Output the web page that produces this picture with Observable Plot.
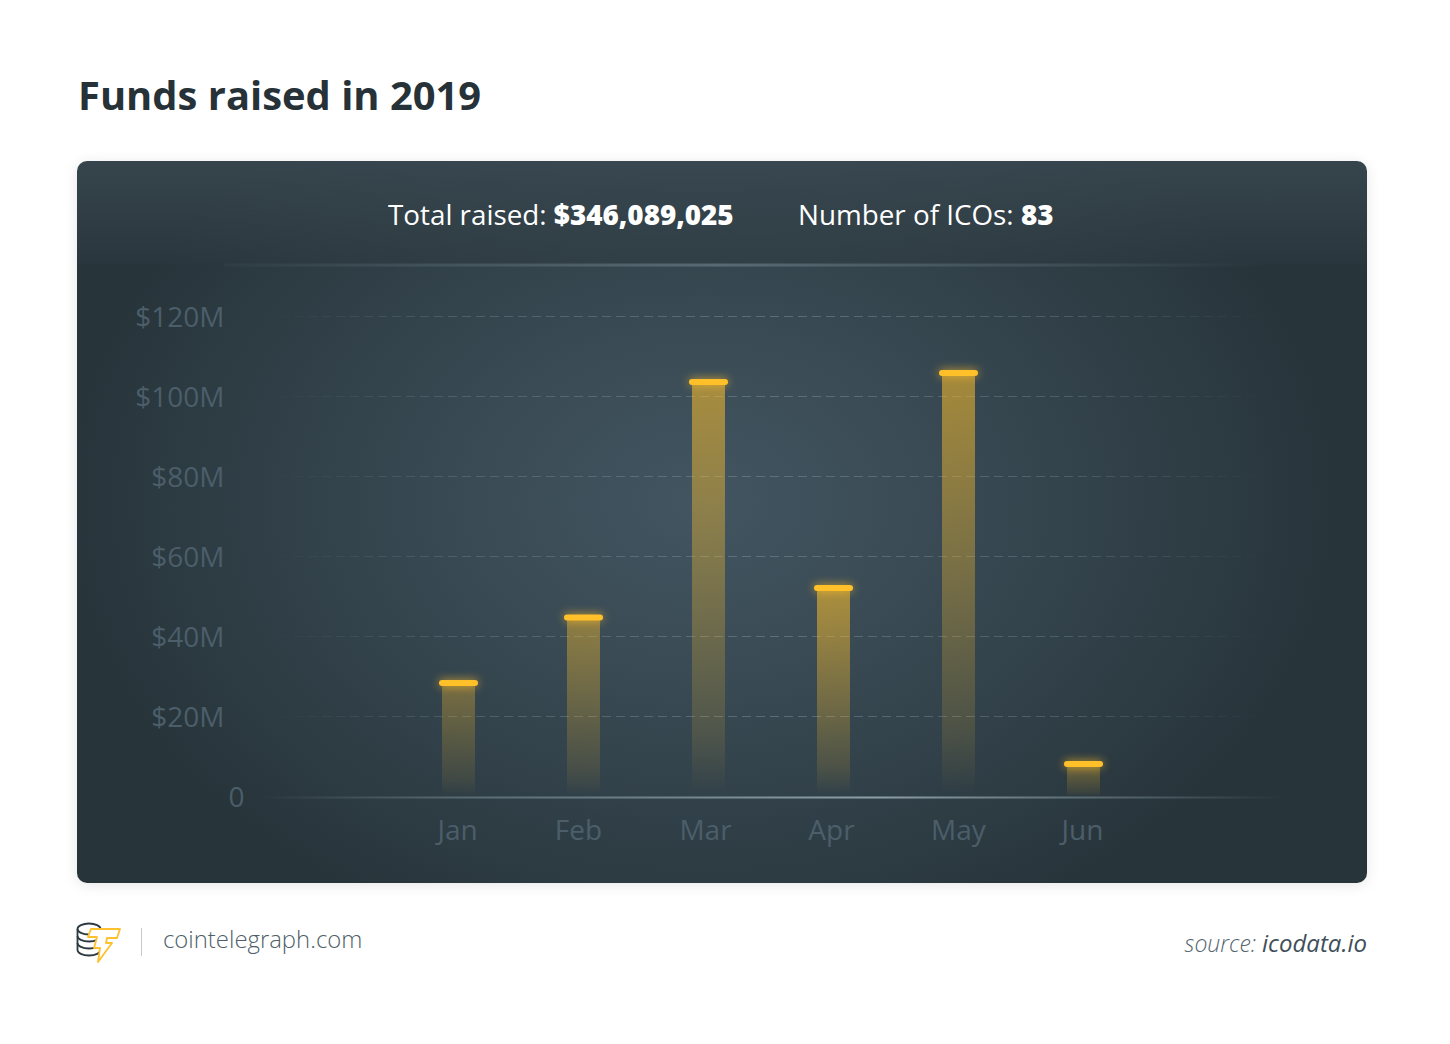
<!DOCTYPE html>
<html><head><meta charset="utf-8">
<script src="https://cdn.jsdelivr.net/npm/d3@7"></script>
<script src="https://cdn.jsdelivr.net/npm/@observablehq/plot@0.6"></script>
<style>
html,body{margin:0;padding:0;background:#fff;font-family:"Open Sans",sans-serif;}
#page{position:relative;width:1450px;height:1044px;overflow:hidden;}
#title{position:absolute;left:78px;top:68px;font-size:39.9px;font-weight:700;color:#263238;line-height:54px;white-space:nowrap;}
#panel{position:absolute;left:77px;top:161px;width:1290px;height:722px;border-radius:10px;box-shadow:0 2px 14px rgba(0,0,0,.1);
background:
 linear-gradient(to bottom,rgba(60,75,84,.72) 0,rgba(44,56,63,.55) 103px,rgba(44,56,63,0) 104px),
 radial-gradient(ellipse 640px 470px at 625px 340px,#425560 0,#3a4b55 35%,#303f47 70%,#27343a 100%);}
#chart{position:absolute;left:0;top:0;}
.stat{position:absolute;top:34px;font-size:27.8px;line-height:38px;color:#fff;white-space:nowrap;}
.stat b{font-weight:800;}
#brand{position:absolute;left:163px;top:923px;font-size:23.9px;line-height:32px;font-weight:300;color:#4f5f69;white-space:nowrap;}
#sep{position:absolute;left:141px;top:928px;width:1px;height:28px;background:#c4c9cc;}
#source{position:absolute;right:83px;top:927px;font-size:23px;line-height:32px;font-style:italic;font-weight:300;color:#56656e;white-space:nowrap;}
#source b{font-size:24px;font-weight:400;color:#3f4f59;}
#logo{position:absolute;left:76px;top:922px;}
g[aria-label="tick"]{filter:drop-shadow(0 0 5px rgba(255,190,40,.8));}
</style></head><body>
<div id="page">
 <div id="title">Funds raised in 2019</div>
 <div id="panel">
  <div class="stat" style="left:311px">Total raised: <b>$346,089,025</b></div>
  <div class="stat" style="left:721px">Number of ICOs: <b>83</b></div>
  <div id="chart"></div>
 </div>
 <svg id="logo" width="46" height="42" viewBox="0 0 46 42" fill="none">
  <g stroke="#2d3a41" stroke-width="1.8">
   <ellipse cx="13" cy="7" rx="11.5" ry="5.5" fill="#fff"/>
   <path d="M1.5 7v21c0 3 5 5.5 11.5 5.5s11.500-2.500 11.500-5.500V7"/>
   <path d="M1.500 14c0 3 5 5.500 11.500 5.500s11.500-2.500 11.500-5.500M1.500 21c0 3 5 5.500 11.500 5.500s11.500-2.500 11.500-5.500"/>
  </g>
  <path d="M15 7h29l-3 9h-10l-1 5h6l-14 19 2-14h-6l3-11h-9z" fill="#fff" stroke="#fdc02f" stroke-width="1.800" stroke-linejoin="round"/>
 </svg>
 <div id="sep"></div>
 <div id="brand">cointelegraph.com</div>
 <div id="source">source: <b>icodata.io</b></div>
</div>
<script>
const months = ["Jan","Feb","Mar","Apr","May","Jun"];
const raised = [28.6, 45, 103.9, 52.4, 106.1, 8.4];
const barGlow = [.58, .75, .95, 1, .95, .58];
const gridTicks = [20,40,60,80,100,120];
const headerLine = [133];
const baseLine = [0];
const rows = months.map((month,i)=>({month,value:raised[i],glow:barGlow[i]}));

const defs = () => {
  const svg = d3.create("svg:defs");
  const lin = (id,attrs,stops) => {
    const g = svg.append("linearGradient").attr("id",id);
    Object.entries(attrs).forEach(([k,v])=>g.attr(k,v));
    stops.forEach(([o,c,a])=>g.append("stop").attr("offset",o).attr("stop-color",c).attr("stop-opacity",a));
  };
  lin("barFill",{x1:0,x2:0,y1:0,y2:1},[[0,"#ffc02a",.58],[.5,"#ffc02a",.32],[.85,"#ffc02a",.13],[.99,"#ffc02a",0],[1,"#ffc02a",0]]);
  const u = {gradientUnits:"userSpaceOnUse",y1:0,y2:0};
  lin("gridFade",{...u,x1:190,x2:1190},[[0,"#6c808b",0],[.2,"#6c808b",.45],[.5,"#7d929c",.5],[.8,"#6c808b",.45],[1,"#6c808b",0]]);
  lin("baseFade",{...u,x1:180,x2:1210},[[0,"#8ba0a8",0],[.2,"#8ba0a8",.45],[.6,"#a6b8bf",.8],[.85,"#8ba0a8",.4],[1,"#8ba0a8",0]]);
  lin("headFade",{...u,x1:90,x2:1190},[[0,"#7a8e98",0],[.25,"#7a8e98",.25],[.5,"#8a9ea8",.42],[.8,"#7a8e98",.22],[1,"#7a8e98",0]]);
  return svg.node();
};

const labelStyle = {tickSize:0,fontSize:28,fill:"#4b5e6a",label:null};
const xLabel = (ticks,dx) => Plot.axisX({...labelStyle,ticks,dx,tickPadding:23});

const plot = Plot.plot({
  width:1290, height:722,
  marginLeft:147, marginRight:0, marginTop:104, marginBottom:86,
  style:{background:"transparent",fontFamily:"'Open Sans',sans-serif",overflow:"visible"},
  x:{type:"band",domain:months,range:[319,1069],paddingInner:.736,paddingOuter:.368,round:false,label:null},
  y:{domain:[0,133],label:null},
  opacity:{domain:[0,1],range:[0,1]},
  marks:[
    defs,
    Plot.ruleY(headerLine,{stroke:"url(#headFade)",strokeWidth:3,dy:-.5}),
    Plot.ruleY(gridTicks,{stroke:"url(#gridFade)",strokeWidth:1,strokeDasharray:"9,5",dy:-1}),
    Plot.barY(rows,{x:"month",y:"value",fill:"url(#barFill)",fillOpacity:"glow"}),
    Plot.ruleY(baseLine,{stroke:"url(#baseFade)",strokeWidth:2}),
    Plot.tickY(rows,{x:"month",y:"value",stroke:"#ffc02a",strokeWidth:6,strokeLinecap:"round"}),
    Plot.axisY({...labelStyle,ticks:gridTicks,tickFormat:d=>`$${d}M`,tickPadding:0,dy:1}),
    Plot.axisY({...labelStyle,ticks:baseLine,tickFormat:d=>`${d}`,tickPadding:0,dx:20,dy:1}),
    xLabel(["Jan"],-1.500), xLabel(["Feb"],-5.500), xLabel(["Mar"],-3.500), xLabel(["Apr"],-2.500), xLabel(["May"],-.5), xLabel(["Jun"],-1.500)
  ]
});
document.getElementById("chart").appendChild(plot);
</script>
</body></html>
